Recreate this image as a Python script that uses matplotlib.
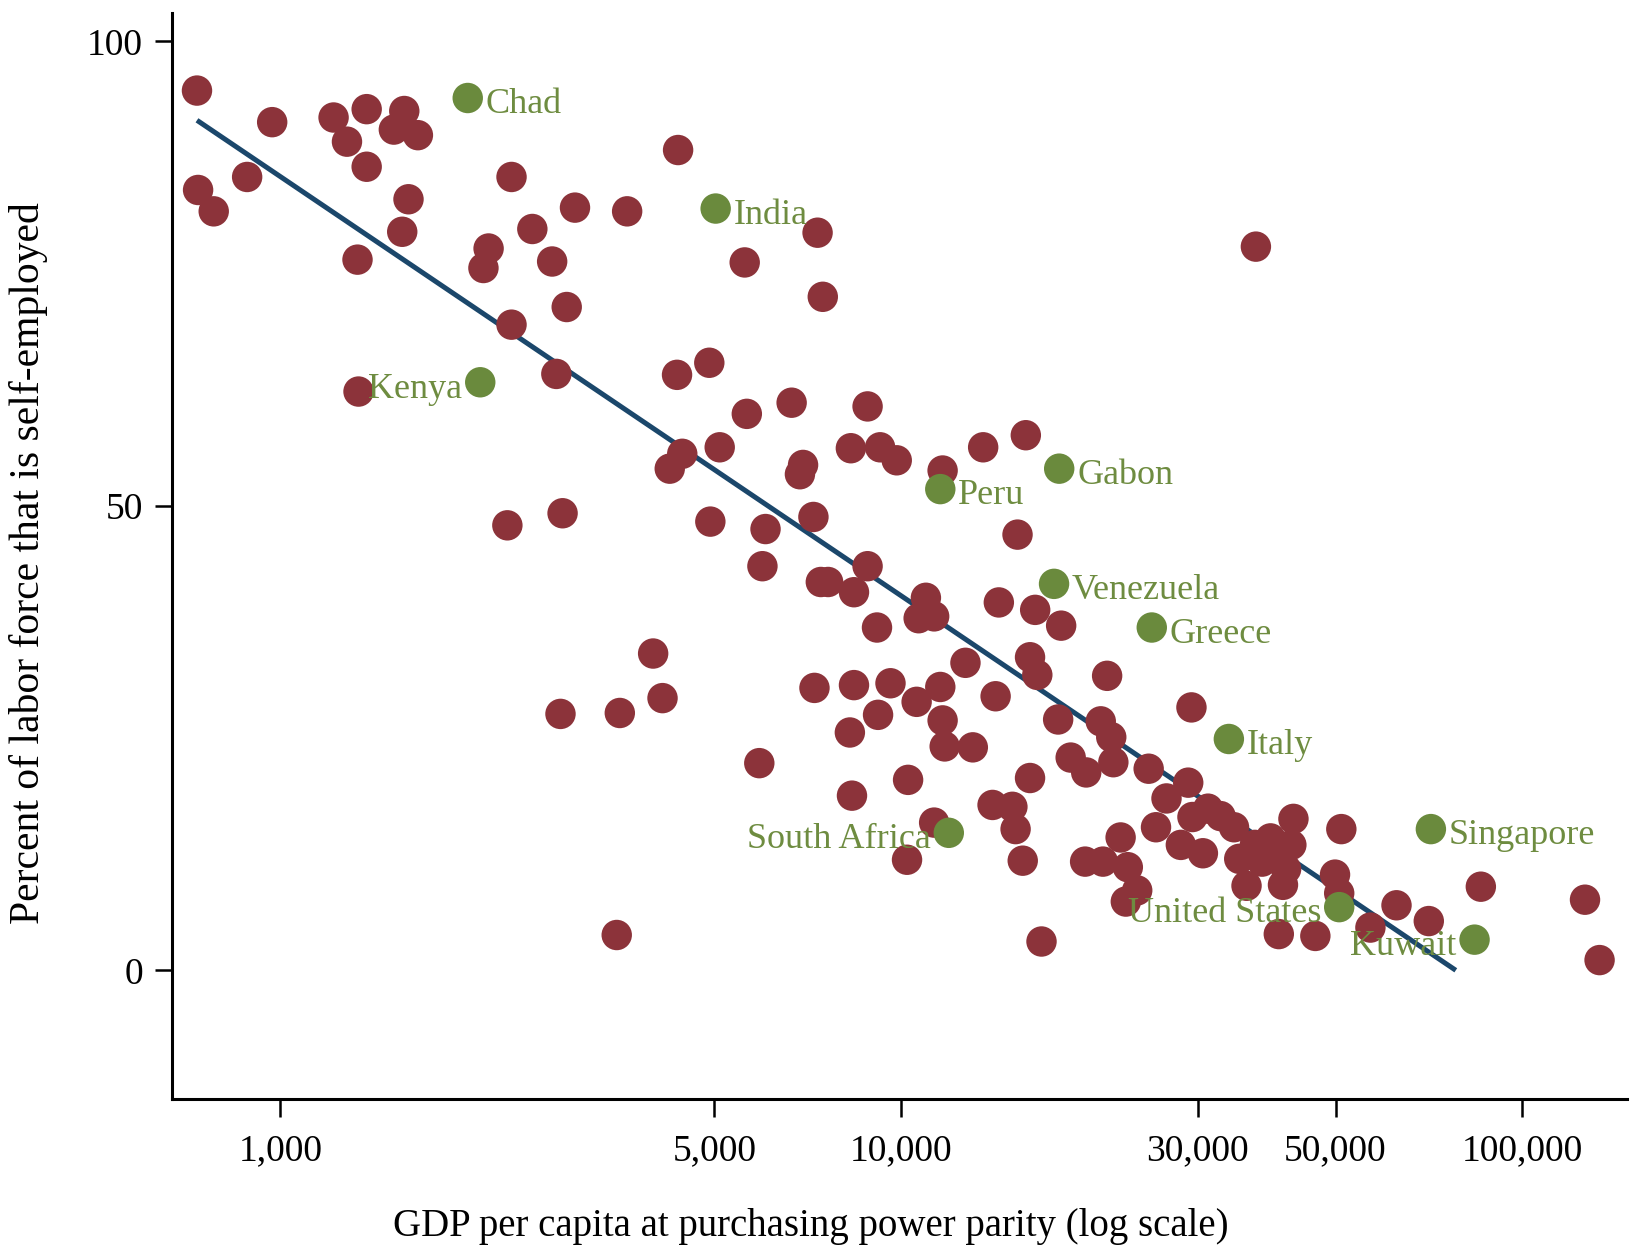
import matplotlib
matplotlib.use("Agg")
import matplotlib.pyplot as plt
from matplotlib.ticker import FixedLocator, NullLocator

# ---- data ----
gdp = [734, 737, 781, 884, 970, 1218, 1280, 1377, 1377, 1331, 1523, 1583, 1665, 1608, 1571,
       1336, 2164, 2123, 2356, 2356, 2545, 2739, 2981, 2891, 2782, 3617, 4369, 5593, 7328,
       7471, 4352, 4905, 6656, 5637, 8821, 5098, 4437, 4236, 6944, 6864, 8291, 9240, 9828,
       11650, 13540, 15860, 2320, 2847, 4924, 6042, 7216, 15380, 5973, 8821, 7417, 7620,
       8387, 10950, 14350, 16420, 10660, 11290, 9134, 18080, 3983, 12680, 16110, 16550,
       21440, 7244, 8387, 9603, 11550, 4124, 10580, 14180, 2825, 3520, 9170, 11650, 17880,
       20940, 29310, 8260, 21770, 11740, 13030, 18730, 5904, 19840, 21940, 25010, 10250,
       16110, 28960, 8325, 26720, 14020, 15090, 11290, 15270, 31170, 29420, 25700, 32650,
       34320, 22540, 28180, 30580, 19760, 21110, 23150, 10210, 15680, 23970, 22980, 34990,
       35950, 37080, 39290, 40520, 42780, 42450, 41150, 51090, 49910, 50690, 40520, 46400,
       56910, 62690, 70660, 85700, 126100, 133100, 16810, 3480, 37220, 38090, 41630]
self_emp = [94.7, 84.0, 81.7, 85.4, 91.3, 91.8, 89.2, 92.7, 86.5, 76.5, 90.5, 92.5, 89.9, 83.0, 79.5,
            62.3, 77.7, 75.6, 85.4, 69.5, 79.8, 76.3, 82.1, 71.4, 64.2, 81.7, 88.3, 76.2, 79.4,
            72.5, 64.1, 65.4, 61.1, 59.9, 60.7, 56.3, 55.6, 54.0, 54.4, 53.4, 56.2, 56.3, 54.9,
            53.8, 56.3, 57.6, 47.9, 49.2, 48.3, 47.5, 48.8, 46.9, 43.5, 43.5, 41.8, 41.8,
            40.7, 40.1, 39.6, 38.8, 37.9, 38.1, 36.9, 37.1, 34.1, 33.1, 33.7, 31.8,
            31.7, 30.4, 30.7, 30.9, 30.5, 29.3, 28.9, 29.5, 27.6, 27.7, 27.5, 26.9, 27.0,
            26.8, 28.3, 25.6, 25.1, 24.1, 24.0, 22.9, 22.3, 21.3, 22.4, 21.7, 20.5,
            20.7, 20.2, 18.8, 18.5, 17.8, 17.6, 15.9, 15.2, 17.4, 16.5, 15.4, 16.6,
            15.4, 14.3, 13.5, 12.6, 11.7, 11.7, 11.1, 11.9, 11.8, 8.6, 7.4, 12.0,
            9.1, 13.5, 14.2, 12.3, 16.3, 13.5, 9.2, 15.2, 10.3, 8.3, 3.9, 3.7,
            4.6, 7.0, 5.3, 9.0, 7.6, 1.1, 3.1, 3.8, 77.9, 11.7, 10.9]

hl_names = ["Chad", "India", "Kenya", "Gabon", "Peru", "Venezuela", "Greece", "Italy",
            "South Africa", "Singapore", "United States", "Kuwait"]
hl_gdp = [2003, 5022, 2098, 17950, 11550, 17610, 25300, 33670, 11920, 71210, 50690, 83730]
hl_pct = [93.9, 82.0, 63.3, 54.0, 51.8, 41.6, 36.9, 24.9, 14.8, 15.2, 6.8, 3.3]
hl_side = ["right", "right", "left", "right", "right", "right", "right", "right",
           "left", "right", "left", "left"]

fit_gdp = [734, 78100]
fit_pct = [91.5, 0.0]

x_ticks = [1000, 5000, 10000, 30000, 50000, 100000]
x_ticklabels = ["1,000", "5,000", "10,000", "30,000", "50,000", "100,000"]
y_ticks = [0, 50, 100]

# ---- style ----
plt.rcParams['font.family'] = ['Liberation Serif', 'DejaVu Serif']
MAROON = "#8c333a"
GREEN = "#6a8a3d"
LABEL_GREEN = "#6e8c40"
BLUE = "#1b476b"

fig = plt.figure(figsize=(16.34, 12.54), dpi=100)
ax = fig.add_axes([0.105, 0.124, 0.891, 0.866])

ax.set_xscale('log')
ax.set_xlim(668, 147600)
ax.set_ylim(-13.8, 103.1)

ax.plot(fit_gdp, fit_pct, color=BLUE, lw=3.6, zorder=2, solid_capstyle='butt')
ax.scatter(gdp, self_emp, s=480, color=MAROON, edgecolors='none', zorder=3)
ax.scatter(hl_gdp, hl_pct, s=480, color=GREEN, edgecolors='none', zorder=4)

for name, gx, gy, side in zip(hl_names, hl_gdp, hl_pct, hl_side):
    dx = 13 if side == "right" else -13
    ax.annotate(name, (gx, gy), xytext=(dx, -11), textcoords='offset points',
                ha='left' if side == "right" else 'right', va='baseline',
                fontsize=26, color=LABEL_GREEN, zorder=5)

ax.xaxis.set_major_locator(FixedLocator(x_ticks))
ax.xaxis.set_minor_locator(NullLocator())
ax.set_xticklabels(x_ticklabels)
ax.set_yticks(y_ticks)

for s in ['top', 'right']:
    ax.spines[s].set_visible(False)
for s in ['left', 'bottom']:
    ax.spines[s].set_linewidth(2.2)

ax.tick_params(axis='x', length=13, width=1.8, pad=12, labelsize=27, direction='out')
ax.tick_params(axis='y', length=12.5, width=1.8, pad=8, labelsize=27, direction='out')

ax.set_xlabel("GDP per capita at purchasing power parity (log scale)", fontsize=28)
ax.set_ylabel("Percent of labor force that is self-employed", fontsize=30)
ax.xaxis.set_label_coords(0.439, -0.118)
ax.xaxis.label.set_va('center')
ax.yaxis.set_label_coords(-0.098, 0.493)
ax.yaxis.label.set_va('center')

fig.savefig("out.png", dpi=100)
